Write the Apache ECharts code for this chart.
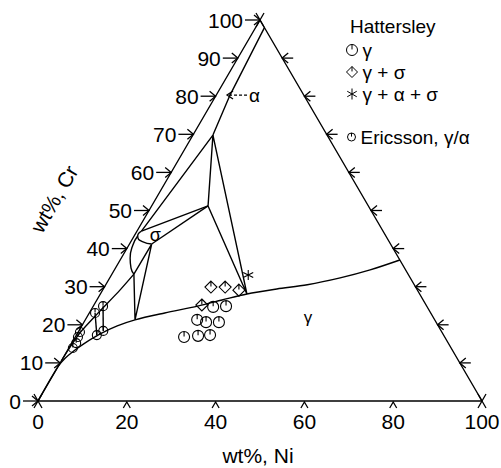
<!DOCTYPE html>
<html>
<head>
<meta charset="utf-8">
<script src="https://cdn.jsdelivr.net/npm/echarts@6/dist/echarts.min.js"></script>
<style>
  html, body { margin: 0; padding: 0; background: #fff; }
  #chart { width: 501px; height: 468px; }
</style>
</head>
<body>
<div id="chart"></div>
<script>
// Fe–Cr–Ni isothermal section. Every composition is [wt% Ni, wt% Cr]; Fe is the balance.

const crTicks = [0, 10, 20, 30, 40, 50, 60, 70, 80, 90, 100];
const niTicks = [0, 20, 40, 60, 80, 100];
const niMarks = [20, 40, 60, 80];
const sideMarksCr = [10, 20, 30, 40, 50, 60, 70, 80, 90]; // marks along the Ni–Cr side

// Phase boundaries
const gammaBoundary = [[0, 0], [0, 9], [0.5, 11.2], [1.4, 13], [2.8, 15], [5.2, 17.6], [8.0, 19.7],
  [11.2, 21.3], [17.0, 23.1], [23.5, 24.9], [28.2, 26.5], [33.0, 28.1], [39.1, 29.4],
  [45.4, 30.5], [51.9, 32.3], [57.6, 34.4], [63, 37]];
const alphaCrRich = [[2, 98], [3.1, 80.3], [4.5, 69.8], [1.0, 44.6]];
const alphaSigmaCurve = [[0.8, 43.3], [0.9, 40.9], [2.0, 37.5], [3.5, 34.9], [4.95, 33.3]];
const alphaGammaLine = [[4.95, 33.3], [3.9, 29.1], [1.9, 22.8], [0.5, 17.9], [0.1, 13.4], [0, 10.5]];
const sigmaUpper = [[12.7, 51.2], [1.0, 44.6]];
const sigmaLower = [[12.7, 51.2], [5.0, 41.2]];
const sigmaCap = [[1.0, 44.6], [0.8, 43.3], [2.6, 41.8], [5.0, 41.2]];
const threePhaseUpper = [[4.5, 69.8], [12.7, 51.2], [33.0, 28.1], [4.5, 69.8]];
const threePhaseLower = [[5.0, 41.2], [11.2, 21.3], [4.95, 33.3], [5.0, 41.2]];
const tieLine1 = [[2.2, 24.9], [5.5, 18.4]];
const tieLine2 = [[1.3, 23.1], [4.6, 17.3]];
const triangleSides = [[0, 0], [100, 0], [0, 100], [0, 0]];

// Measured alloys
const hattersleyGamma = [[27.1, 24.7], [29.9, 24.9], [25.2, 21.3], [27.5, 20.7], [30.4, 20.7],
  [24.5, 16.8], [27.5, 17.1], [30.1, 17.3]];
const hattersleyGammaSigma = [[24.0, 29.9], [27.2, 29.9], [30.7, 29.1], [24.3, 25.2]];
const hattersleyThreePhase = [[30.8, 33.1]];
const ericsson = [[2.2, 24.9], [1.3, 23.1], [5.5, 18.4], [4.6, 17.3], [0.4, 18.1], [0.6, 16.8],
  [1.0, 15.2], [0.9, 13.9]];

// Region labels and pointer
const sigmaLabelAt = [4.6, 43.6];
const gammaLabelAt = [49.8, 22.0];
const alphaPointerAt = [3.1, 80.3];

const FONT = '"Liberation Sans", Arial, Helvetica, sans-serif';

// ternary [Ni, Cr] -> cartesian [x, y] on a 0..100 equilateral frame
const cart = ([ni, cr]) => [ni + cr / 2, cr];

const circleTick = 'path://M0,-10A10,10,0,1,1,0,10A10,10,0,1,1,0,-10ZM0,-10L0,-1';
const diamondTick = 'path://M0,-10L10,0L0,10L-10,0ZM0,-10L0,-1';
const asterisk = 'path://M0,-10L0,10M-8.66,-5L8.66,5M-8.66,5L8.66,-5';

const openStyle = { color: 'rgba(0,0,0,0)', borderColor: '#000', borderWidth: 1.1, opacity: 1 };

function boundary(pts, smooth) {
  return {
    type: 'line', data: pts.map(cart), symbol: 'none', showSymbol: false,
    smooth: smooth || false, clip: false, silent: true, z: 2,
    lineStyle: { color: '#000', width: 1.4 }
  };
}

function markers(name, pts, symbol, size) {
  return {
    type: 'scatter', name, data: pts.map(cart), symbol, symbolSize: size,
    clip: false, silent: true, z: 4, itemStyle: openStyle
  };
}

function renderFrame(params, api) {
  const P = (ni, cr) => api.coord(cart([ni, cr]));
  const kids = [];
  const poly = (pts, extra) => kids.push({
    type: 'polyline', shape: { points: pts },
    style: Object.assign({ stroke: '#000', lineWidth: 1.3, fill: null }, extra || {})
  });
  const text = (s, x, y, st, rot) => kids.push({
    type: 'text', x, y, rotation: rot || 0,
    style: Object.assign({ text: s, fill: '#000', fontSize: 21, fontFamily: FONT }, st)
  });

  // Cr scale on the Fe–Cr side
  crTicks.forEach(cr => {
    const [x, y] = P(0, cr);
    poly([[x - 15, y], [x, y]]);
    poly([[x - 6, y - 5], [x, y], [x - 6, y + 5]]);
    text(String(cr), x - 17, y, { align: 'right', verticalAlign: 'middle' });
  });
  // marks on the Ni–Cr side
  sideMarksCr.forEach(cr => {
    const [x, y] = P(100 - cr, cr);
    poly([[x, y], [x + 11, y]]);
    poly([[x + 6, y - 5], [x, y], [x + 6, y + 5]]);
  });
  // Ni scale on the base
  niMarks.forEach(ni => {
    const [x, y] = P(ni, 0);
    poly([[x - 3.5, y + 7], [x, y + 1], [x + 3.5, y + 7]]);
  });
  niTicks.forEach(ni => {
    const [x, y] = P(ni, 0);
    text(String(ni), x, y + 20, { align: 'center', verticalAlign: 'middle' });
  });
  // crosses at the corners
  [[0, 0], [100, 0], [0, 100]].forEach(([ni, cr]) => {
    const [x, y] = P(ni, cr);
    poly([[x - 4, y - 7], [x + 4, y + 7]]);
    poly([[x + 4, y - 7], [x - 4, y + 7]]);
  });
  // axis titles
  const [bx, by] = P(50, 0);
  text('wt%, Ni', bx - 2, by + 54, { align: 'center', verticalAlign: 'middle' });
  const [lx, ly] = P(0, 41.5);
  text('wt%, Cr', lx - 76, ly - 44, { align: 'center', verticalAlign: 'middle' }, Math.PI / 3);

  // phase labels
  const [sx, sy] = P(sigmaLabelAt[0], sigmaLabelAt[1]);
  text('σ', sx, sy, { align: 'center', verticalAlign: 'middle', fontSize: 18 });
  const [gx, gy] = P(gammaLabelAt[0], gammaLabelAt[1]);
  text('γ', gx, gy, { align: 'center', verticalAlign: 'middle', fontSize: 17 });
  // pointer to the alpha field
  const [ax, ay] = P(alphaPointerAt[0], alphaPointerAt[1]);
  const tip = ax - 3;
  poly([[tip + 6, ay - 4], [tip, ay], [tip + 6, ay + 4]]);
  poly([[tip + 2, ay], [tip + 20, ay]], { lineDash: [3, 2] });
  text('α', tip + 22, ay, { align: 'left', verticalAlign: 'middle', fontSize: 19 });

  return { type: 'group', children: kids };
}

const legendText = { fontSize: 19, lineHeight: 20, fontFamily: FONT, color: '#000' };

const chart = echarts.init(document.getElementById('chart'), null, { renderer: 'svg' });
chart.setOption({
  animation: false,
  backgroundColor: '#fff',
  title: {
    text: 'Hattersley', left: 350, top: 17, padding: 0,
    textStyle: { fontSize: 19, fontWeight: 'normal', fontFamily: FONT, color: '#000' }
  },
  legend: [
    {
      data: ['γ', 'γ + σ', 'γ + α + σ'], orient: 'vertical', left: 346, top: 40,
      itemWidth: 11, itemHeight: 11, itemGap: 2, padding: 0, selectedMode: false,
      itemStyle: { color: 'rgba(0,0,0,0)', borderColor: '#000', borderWidth: 1 },
      textStyle: legendText
    },
    {
      data: ['Ericsson, γ/α'], orient: 'vertical', left: 347, top: 127,
      itemWidth: 8, itemHeight: 8, padding: 0, selectedMode: false,
      itemStyle: { color: 'rgba(0,0,0,0)', borderColor: '#000', borderWidth: 1 },
      textStyle: legendText
    }
  ],
  grid: { left: 38, right: 19, top: 20, bottom: 67 },
  xAxis: { type: 'value', min: 0, max: 100, show: false },
  yAxis: { type: 'value', min: 0, max: 100, show: false },
  series: [
    boundary(triangleSides),
    boundary(gammaBoundary, 0.3),
    boundary(alphaCrRich),
    boundary(alphaSigmaCurve, 0.5),
    boundary(alphaGammaLine, 0.2),
    boundary(sigmaUpper),
    boundary(sigmaLower),
    boundary(sigmaCap, 0.6),
    boundary(threePhaseUpper),
    boundary(threePhaseLower),
    boundary(tieLine1),
    boundary(tieLine2),
    markers('γ', hattersleyGamma, circleTick, 11),
    markers('γ + σ', hattersleyGammaSigma, diamondTick, 12),
    markers('γ + α + σ', hattersleyThreePhase, asterisk, 10),
    markers('Ericsson, γ/α', ericsson, circleTick, 9),
    {
      type: 'custom', coordinateSystem: 'cartesian2d', data: [[0, 0]], clip: false,
      silent: true, z: 3, renderItem: renderFrame
    }
  ]
});
</script>
</body>
</html>
